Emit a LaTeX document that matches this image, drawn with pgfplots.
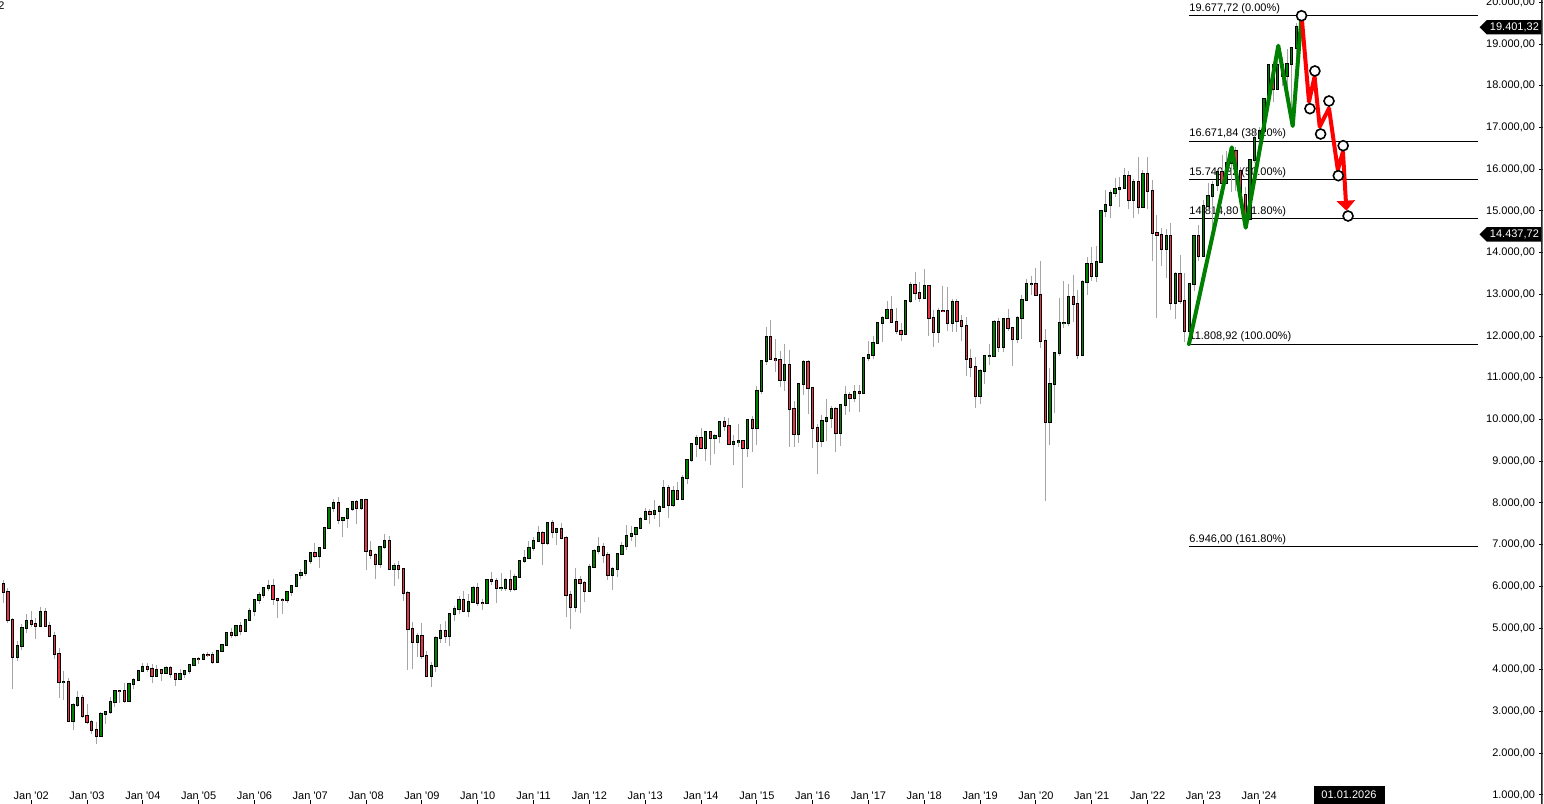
\documentclass[border=0pt]{standalone}
\usepackage{fontspec}
\setmainfont{Liberation Sans}
\usepackage{pgfplots}
\usepackage{pgfplotstable}
\pgfplotsset{compat=1.18}
\usetikzlibrary{shapes.symbols,arrows.meta}
\definecolor{cgreen}{RGB}{0,128,0}
\definecolor{cred}{RGB}{232,52,72}
\definecolor{wick}{RGB}{165,165,165}
\definecolor{zzgreen}{RGB}{0,128,0}
\definecolor{zzred}{RGB}{255,0,0}
\newcommand\lab{\fontsize{5.5pt}{6.6pt}\selectfont}
\newcommand\q{\textquotesingle}

\pgfplotstableread{
m o h l c
-6 6058 6150 5600 5861
-5 5861 5950 5130 5188
-4 5188 5230 3540 4308
-3 4308 4700 4200 4559
-2 4559 5100 4480 4990
-1 4990 5330 4880 5160
0 5160 5400 5030 5107
1 5107 5250 4750 5039
2 5039 5500 5020 5397
3 5397 5470 5030 5041
4 5041 5150 4800 4818
5 4818 4900 4250 4383
6 4383 4520 3320 3700
7 3700 3960 3270 3712
8 3712 3800 2750 2769
9 2769 3200 2560 3153
10 3153 3480 3100 3320
11 3320 3400 2850 2893
12 2893 3180 2700 2748
13 2748 2800 2450 2547
14 2547 2750 2230 2424
15 2424 3000 2400 2942
16 2942 3020 2700 2983
17 2983 3340 2950 3221
18 3221 3500 3100 3487
19 3487 3500 3200 3485
20 3485 3680 3200 3257
21 3257 3690 3250 3656
22 3656 3800 3550 3746
23 3746 3990 3730 3965
24 3965 4160 3960 4058
25 4058 4160 3950 4018
26 4018 4150 3690 3856
27 3856 4110 3840 3985
28 3985 4000 3720 3921
29 3921 4100 3910 4052
30 4052 4100 3800 3895
31 3895 3900 3620 3785
32 3785 4010 3750 3893
33 3893 4000 3800 3960
34 3960 4150 3900 4126
35 4126 4270 4100 4256
36 4256 4300 4150 4254
37 4254 4400 4230 4350
38 4350 4420 4310 4349
39 4349 4420 4150 4185
40 4185 4470 4170 4460
41 4460 4630 4440 4586
42 4586 4900 4580 4887
43 4887 5000 4760 4829
44 4829 5080 4790 5044
45 5044 5140 4840 4929
46 4929 5220 4900 5193
47 5193 5470 5180 5408
48 5408 5700 5300 5674
49 5674 5860 5580 5796
50 5796 5990 5720 5970
51 5970 6160 5900 6009
52 6009 6170 5560 5692
53 5692 5700 5240 5683
54 5683 5720 5330 5682
55 5682 5880 5600 5859
56 5859 6040 5760 6004
57 6004 6290 5980 6269
58 6269 6420 6180 6309
59 6309 6620 6250 6597
60 6597 6800 6530 6789
61 6789 7040 6690 6716
62 6716 6950 6440 6917
63 6917 7420 6900 7409
64 7409 7890 7400 7884
65 7884 8100 7780 8007
66 8007 8150 7500 7584
67 7584 7650 7180 7638
68 7638 7870 7410 7862
69 7862 8050 7800 8020
70 8020 8060 7500 7871
71 7871 8100 7830 8067
72 8067 8100 6380 6851
73 6851 7080 6650 6748
74 6748 6800 6170 6535
75 6535 6960 6450 6949
76 6949 7250 6900 7097
77 7097 7200 6390 6418
78 6418 6550 6000 6479
79 6479 6600 6180 6422
80 6422 6450 5660 5831
81 5831 5900 4000 4988
82 4988 5150 4010 4669
83 4669 4890 4300 4810
84 4810 5110 4270 4338
85 4338 4450 3830 3844
86 3844 4190 3590 4085
87 4085 4800 3950 4770
88 4770 5100 4650 4941
89 4941 5160 4640 4809
90 4809 5360 4570 5332
91 5332 5530 5180 5465
92 5465 5760 5330 5675
93 5675 5890 5400 5415
94 5415 5820 5270 5625
95 5625 6010 5600 5957
96 5957 6090 5540 5608
97 5608 5700 5430 5598
98 5598 6170 5590 6154
99 6154 6340 6030 6136
100 6136 6200 5600 5965
101 5965 6330 5900 5966
102 5966 6190 5880 6148
103 6148 6390 5860 5925
104 5925 6290 5880 6229
105 6229 6620 6200 6601
106 6601 6880 6560 6688
107 6688 7080 6680 6914
108 6914 7190 6850 7077
109 7077 7440 7070 7273
110 7273 7320 6510 7041
111 7041 7530 7000 7514
112 7514 7600 7160 7294
113 7294 7390 6990 7376
114 7376 7520 7150 7159
115 7159 7200 5260 5785
116 5785 5900 4970 5502
117 5502 6430 5390 6141
118 6141 6240 5370 6089
119 6089 6140 5630 5898
120 5898 6530 5900 6458
121 6458 6900 6450 6856
122 6856 7190 6780 6947
123 6947 7050 6560 6762
124 6762 6830 6160 6264
125 6264 6470 5910 6416
126 6416 6800 6230 6772
127 6772 7060 6760 6971
128 6971 7480 6870 7216
129 7216 7440 7080 7260
130 7260 7410 6950 7405
131 7405 7670 7390 7612
132 7612 7870 7600 7776
133 7776 7850 7500 7742
134 7742 8060 7620 7795
135 7795 7950 7420 7914
136 7914 8560 7900 8349
137 8349 8430 7650 7959
138 7959 8400 7910 8276
139 8276 8490 8100 8104
140 8104 8660 8090 8594
141 8594 9050 8460 9033
142 9033 9420 8990 9406
143 9406 9620 9100 9552
144 9552 9800 9290 9306
145 9306 9730 9010 9692
146 9692 9730 8910 9556
147 9556 9660 9170 9603
148 9603 9950 9440 9943
149 9943 10050 9730 9833
150 9833 10030 9390 9407
151 9407 9630 8900 9470
152 9470 9890 9350 9474
153 9474 9490 8360 9327
154 9327 9990 9100 9981
155 9981 10090 9220 9806
156 9806 10810 9380 10694
157 10694 11410 10600 11402
158 11402 12220 11300 11966
159 11966 12390 11450 11454
160 11454 11920 11150 11414
161 11414 11630 10780 10945
162 10945 11800 10680 11309
163 11309 11670 9340 10259
164 10259 10440 9330 9660
165 9660 10850 9440 10850
166 10850 11430 10590 11382
167 11382 11420 10120 10743
168 10743 10750 9310 9798
169 9798 9890 8700 9495
170 9495 10110 9340 9966
171 9966 10490 9480 10039
172 10039 10330 9800 10263
173 10263 10300 9210 9680
174 9680 10340 9370 10337
175 10337 10800 10100 10593
176 10593 10660 10170 10511
177 10511 10830 10420 10665
178 10665 10820 10170 10640
179 10640 11480 10600 11481
180 11481 11890 11400 11535
181 11535 12000 11450 11834
182 11834 12320 11860 12313
183 12313 12480 11860 12438
184 12438 12840 12420 12615
185 12615 12950 12320 12325
186 12325 12670 12060 12118
187 12118 12310 11870 12056
188 12056 12840 12050 12829
189 12829 13300 12790 13230
190 13230 13530 12860 13024
191 13024 13300 12820 12918
192 12918 13600 12920 13189
193 13189 13220 12000 12436
194 12436 12630 11730 12097
195 12097 12670 11840 12612
196 12612 13210 12580 12605
197 12605 13170 12120 12306
198 12306 12880 12100 12806
199 12806 12890 12100 12364
200 12364 12500 11870 12247
201 12247 12460 11050 11447
202 11447 11690 11010 11257
203 11257 11500 10280 10559
204 10559 11210 10380 11173
205 11173 11530 10860 11516
206 11516 11820 11300 11526
207 11526 12390 11520 12344
208 12344 12440 11620 11727
209 11727 12440 11620 12399
210 12399 12660 12130 12189
211 12189 12190 11270 11939
212 11939 12490 11840 12428
213 12428 12990 11930 12867
214 12867 13370 12860 13236
215 13236 13430 12990 13249
216 13249 13640 12950 12982
217 12982 13800 11720 11890
218 11890 12180 8050 9936
219 9936 11230 9390 10862
220 10862 11600 10160 11587
221 11587 12910 11530 12311
222 12311 13310 12190 12313
223 12313 13250 12250 12945
224 12945 13460 12340 12761
225 12761 13100 11450 11556
226 11556 13340 11560 13291
227 13291 13900 12990 13719
228 13719 14130 13310 13433
229 13433 14170 13300 13786
230 13786 15020 13800 15008
231 15008 15500 14850 15136
232 15136 15500 14820 15421
233 15421 15800 15330 15531
234 15531 15810 15100 15544
235 15544 16030 15540 15835
236 15835 15950 15050 15261
237 15261 15760 14820 15688
238 15688 16290 14930 15100
239 15100 15990 15060 15885
240 15885 16290 15050 15471
241 15471 15740 13800 14461
242 14461 14900 12440 14415
243 14415 14600 13670 14098
244 14098 14570 13380 14388
245 14388 14710 12620 12784
246 12784 13540 12400 13484
247 13484 13950 12760 12835
248 12835 13500 11860 12114
249 12114 13260 11870 13254
250 13254 14430 13090 14397
251 14397 14670 13790 13924
252 13924 15270 13990 15128
253 15128 15660 15010 15365
254 15365 15710 14460 15629
255 15629 15900 15480 15922
256 15922 16330 15630 15664
257 15664 16430 15730 16148
258 16148 16530 15460 16447
259 16447 16530 15470 15947
260 15947 16040 15200 15387
261 15387 15580 14630 14810
262 14810 16250 14780 16215
263 16215 16960 16140 16752
264 16752 17000 16350 16904
265 16904 17680 16850 17678
266 17678 18500 17650 18492
267 18492 18570 17620 17932
268 17932 18890 17900 18498
269 18498 18680 17990 18235
270 18235 18890 17900 18509
271 18509 18900 17020 18907
272 18907 19500 18200 19401.32
}\dax

\begin{document}
\begin{tikzpicture}
\path[use as bounding box] (0,0) rectangle (772pt,402pt);
\begin{axis}[
  at={(0,0)}, anchor=south west,
  scale only axis, width=771.25pt, height=402pt,
  xmin=-6.707, xmax=324.9, ymin=783, ymax=20055,
  axis line style={draw=none},
  xtick={0,12,...,264},
  xticklabels={Jan \q{}02,Jan \q{}03,Jan \q{}04,Jan \q{}05,Jan \q{}06,Jan \q{}07,Jan \q{}08,Jan \q{}09,Jan \q{}10,Jan \q{}11,Jan \q{}12,Jan \q{}13,Jan \q{}14,Jan \q{}15,Jan \q{}16,Jan \q{}17,Jan \q{}18,Jan \q{}19,Jan \q{}20,Jan \q{}21,Jan \q{}22,Jan \q{}23,Jan \q{}24},
  ytick={1000,2000,...,20000},
  xtick pos=bottom, ytick pos=right, yticklabel pos=right,
  tick align=inside,
  major tick length=2pt,
  tick style={black, line width=0.5pt},
  scaled y ticks=false,
  yticklabel style={anchor=east, inner sep=0pt, xshift=-3.5pt, font=\lab,
    /pgf/number format/fixed, /pgf/number format/fixed zerofill,
    /pgf/number format/precision=2, /pgf/number format/use comma,
    /pgf/number format/1000 sep={.}, /pgf/number format/assume math mode=true},
  xticklabel style={anchor=base, inner sep=0pt, yshift=2.3pt, font=\lab},
]
% Fibonacci levels
\addplot[black, line width=0.5pt] coordinates {(248.9,19677.72) (311,19677.72)} node[pos=0, anchor=south west, inner sep=0pt, yshift=0.8pt, font=\lab] {19.677,72 (0.00\%)};
\addplot[black, line width=0.5pt] coordinates {(248.9,16671.84) (311,16671.84)} node[pos=0, anchor=south west, inner sep=0pt, yshift=0.8pt, font=\lab] {16.671,84 (38.20\%)};
\addplot[black, line width=0.5pt] coordinates {(248.9,15740.32) (311,15740.32)} node[pos=0, anchor=south west, inner sep=0pt, yshift=0.8pt, font=\lab] {15.740,32 (50.00\%)};
\addplot[black, line width=0.5pt] coordinates {(248.9,14814.80) (311,14814.80)} node[pos=0, anchor=south west, inner sep=0pt, yshift=0.8pt, font=\lab] {14.814,80 (61.80\%)};
\addplot[black, line width=0.5pt] coordinates {(248.9,11808.92) (311,11808.92)} node[pos=0, anchor=south west, inner sep=0pt, yshift=0.8pt, font=\lab] {11.808,92 (100.00\%)};
\addplot[black, line width=0.5pt] coordinates {(248.9,6946.00) (311,6946.00)} node[pos=0, anchor=south west, inner sep=0pt, yshift=0.8pt, font=\lab] {6.946,00 (161.80\%)};
% wicks
\addplot[draw=none, mark=none,
  error bars/.cd, y dir=both, y explicit, error mark=none,
  error bar style={draw=wick, line width=0.5pt}]
  table[x=m, y expr={(\thisrow{h}+\thisrow{l})/2}, y error expr={(\thisrow{h}-\thisrow{l})/2}] {\dax};
% body outlines
\addplot[draw=none, mark=none,
  error bars/.cd, y dir=both, y explicit, error mark=none,
  error bar style={draw=black, line width=1.65pt}]
  table[x=m, y expr={(\thisrow{o}+\thisrow{c})/2}, y error expr={abs(\thisrow{o}-\thisrow{c})/2+24}] {\dax};
% green bodies
\addplot[draw=none, mark=none, restrict y to domain=0:40000,
  error bars/.cd, y dir=both, y explicit, error mark=none,
  error bar style={draw=cgreen, line width=0.65pt}]
  table[x=m, y expr={\thisrow{c}>=\thisrow{o} ? (\thisrow{o}+\thisrow{c})/2 : -50000}, y error expr={abs(\thisrow{o}-\thisrow{c})/2}] {\dax};
% red bodies
\addplot[draw=none, mark=none, restrict y to domain=0:40000,
  error bars/.cd, y dir=both, y explicit, error mark=none,
  error bar style={draw=cred, line width=0.65pt}]
  table[x=m, y expr={\thisrow{c}<\thisrow{o} ? (\thisrow{o}+\thisrow{c})/2 : -50000}, y error expr={abs(\thisrow{o}-\thisrow{c})/2}] {\dax};
% zigzags
\addplot[zzgreen, line width=2pt, line join=round, line cap=round, mark=none] coordinates {(248.9,11808.92) (258.1,16524) (261.1,14597) (268.1,18960) (271.2,17035) (273.1,19677.72)};
\addplot[zzred, line width=2pt, line join=round, mark=none, -{Triangle[width=9pt,length=5pt]}] coordinates {(273.2,19560) (274.7,17617) (275.9,18217) (277.0,17018) (279.0,17459) (280.9,15981) (282.0,16419) (282.75,15005)};
\addplot[only marks, mark=*, mark size=2.5pt, mark options={fill=white, draw=black, line width=0.8pt}] coordinates {(273.1,19677.72) (275.97,18354) (274.9,17450) (279.0,17634) (277.2,16843) (282.05,16563) (281.0,15844) (283.1,14877)};
% price tags
\node[signal, signal to=west, fill=black, text=white, font=\lab, inner xsep=1.6pt, inner ysep=0pt, minimum height=7.2pt, anchor=east] at (axis cs:324.9,19401.32) {19.401,32};
\node[signal, signal to=west, fill=black, text=white, font=\lab, inner xsep=1.6pt, inner ysep=0pt, minimum height=7.2pt, anchor=east] at (axis cs:324.9,14437.72) {14.437,72};
\node[fill=black, text=white, font=\lab, anchor=south, minimum height=9pt, minimum width=35.5pt, inner sep=0pt] at (axis cs:283.3,783) {01.01.2026};
\node[font=\lab, anchor=north east, inner sep=0pt] at (rel axis cs:0,1) [xshift=2.5pt, yshift=-0.5pt] {2};
\draw[line width=1.2pt, color=black!85] (rel axis cs:1,0) -- (rel axis cs:1,1);
\end{axis}
\end{tikzpicture}
\end{document}
